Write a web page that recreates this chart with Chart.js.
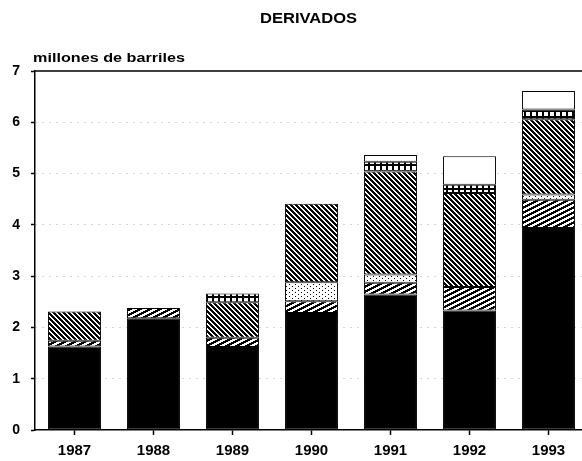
<!DOCTYPE html>
<html>
<head>
<meta charset="utf-8">
<script src="https://cdn.jsdelivr.net/npm/chart.js@4.4.1/dist/chart.umd.min.js"></script>
<style>
  html, body { margin: 0; padding: 0; background: #fff; overflow: hidden; }
  #wrap { width: 592px; height: 461px; }
</style>
</head>
<body>
<div id="wrap"><canvas id="c" width="592" height="461"></canvas></div>
<script>
const title = 'DERIVADOS';
const yTitle = 'millones de barriles';
const years = ['1987', '1988', '1989', '1990', '1991', '1992', '1993'];
const yTicks = [0, 1, 2, 3, 4, 5, 6, 7];
const seriesSolid     = [1.63, 2.18, 1.62, 2.28, 2.64, 2.33, 3.94];
const seriesSlash     = [0.11, 0.20, 0.18, 0.23, 0.23, 0.46, 0.55];
const seriesStipple   = [null, null, null, 0.37, 0.16, null, 0.10];
const seriesBackslash = [0.57, null, 0.69, 1.53, 2.01, 1.83, 1.47];
const seriesCrosses   = [null, null, 0.17, null, 0.19, 0.16, 0.19];
const seriesWhite     = [null, null, null, null, 0.13, 0.56, 0.36];

function pixelPattern(w, h, isBlack) {
  const c = document.createElement('canvas');
  c.width = w; c.height = h;
  const x = c.getContext('2d');
  x.fillStyle = '#fff'; x.fillRect(0, 0, w, h);
  x.fillStyle = '#000';
  for (let j = 0; j < h; j++) {
    for (let i = 0; i < w; i++) {
      if (isBlack(i, j)) x.fillRect(i, j, 1, 1);
    }
  }
  return x.createPattern(c, 'repeat');
}

// "/" wide stripes: white bands on black, shallow slope
const pSlash = pixelPattern(10, 5, (i, j) => ((i + 2 * j) % 10) >= 5);
// "\" dense stripes
const pBack = pixelPattern(5, 5, (i, j) => (((i - j) % 5) + 5) % 5 < 3);
// sparse dots
const pStip = pixelPattern(6, 4, (i, j) => (i === 1 && j === 0) || (i === 4 && j === 2));
// row of crosses
const pCross = pixelPattern(6, 6, (i, j) => (i >= 2 && i <= 3) || (j >= 2 && j <= 3));

function ds(label, data, bg) {
  return {
    label, data, backgroundColor: bg,
    borderColor: '#000', borderWidth: 1, borderSkipped: false,
    categoryPercentage: 1, barPercentage: 0.67
  };
}

const decor = {
  id: 'decor',
  afterDraw(chart) {
    const ctx = chart.ctx;
    const ys = chart.scales.y;
    const area = chart.chartArea;
    ctx.save();
    const yTop = ys.getPixelForValue(7);
    ctx.strokeStyle = '#000'; ctx.lineWidth = 1.5;
    ctx.beginPath(); ctx.moveTo(area.left, yTop); ctx.lineTo(area.right, yTop); ctx.stroke();
    ctx.fillStyle = '#000';
    ctx.textBaseline = 'alphabetic';
    ctx.font = 'bold 15px "Liberation Sans", Arial, sans-serif';
    let w = ctx.measureText(title).width;
    ctx.save();
    ctx.translate(260, 23);
    ctx.scale(97 / w, 1);
    ctx.textAlign = 'left';
    ctx.fillText(title, 0, 0);
    ctx.restore();
    ctx.font = 'bold 13px "Liberation Sans", Arial, sans-serif';
    w = ctx.measureText(yTitle).width;
    ctx.save();
    ctx.translate(33, 62);
    ctx.scale(152 / w, 1);
    ctx.textAlign = 'left';
    ctx.fillText(yTitle, 0, 0);
    ctx.restore();
    ctx.restore();
  }
};

new Chart(document.getElementById('c'), {
  type: 'bar',
  data: {
    labels: years,
    datasets: [
      ds('A', seriesSolid, '#000'),
      ds('B', seriesSlash, pSlash),
      ds('C', seriesStipple, pStip),
      ds('D', seriesBackslash, pBack),
      ds('E', seriesCrosses, pCross),
      ds('F', seriesWhite, '#fff')
    ]
  },
  options: {
    responsive: false,
    animation: false,
    devicePixelRatio: 1,
    layout: { padding: { top: 71, right: 4, left: 0, bottom: 0 } },
    plugins: { legend: { display: false }, tooltip: { enabled: false }, title: { display: false } },
    scales: {
      x: {
        stacked: true,
        afterFit(s) { s.height = 31; },
        grid: { display: true, drawOnChartArea: false, offset: false, tickLength: 5, tickColor: '#000', tickWidth: 1.5 },
        border: { display: true, color: '#000', width: 1.5 },
        ticks: { color: '#000', padding: 7, font: { family: '"Liberation Sans", Arial, sans-serif', size: 15, weight: 'bold' } }
      },
      y: {
        stacked: true,
        min: 0, max: 7,
        afterFit(s) { s.width = 35; },
        afterBuildTicks(s) { s.ticks = yTicks.map(v => ({ value: v })); },
        grid: {
          display: true, drawOnChartArea: true, tickLength: 4, tickColor: '#000', tickWidth: 1.5,
          color: (c) => (c.tick && (c.tick.value === 0 || c.tick.value === 7)) ? 'rgba(0,0,0,0)' : '#aaa',
          lineWidth: 1
        },
        border: { display: true, color: '#000', width: 1.5, dash: [1, 6] },
        ticks: { color: '#000', padding: 11, font: { family: '"Liberation Sans", Arial, sans-serif', size: 14, weight: 'bold' } }
      }
    }
  },
  plugins: [decor]
});
</script>
</body>
</html>
